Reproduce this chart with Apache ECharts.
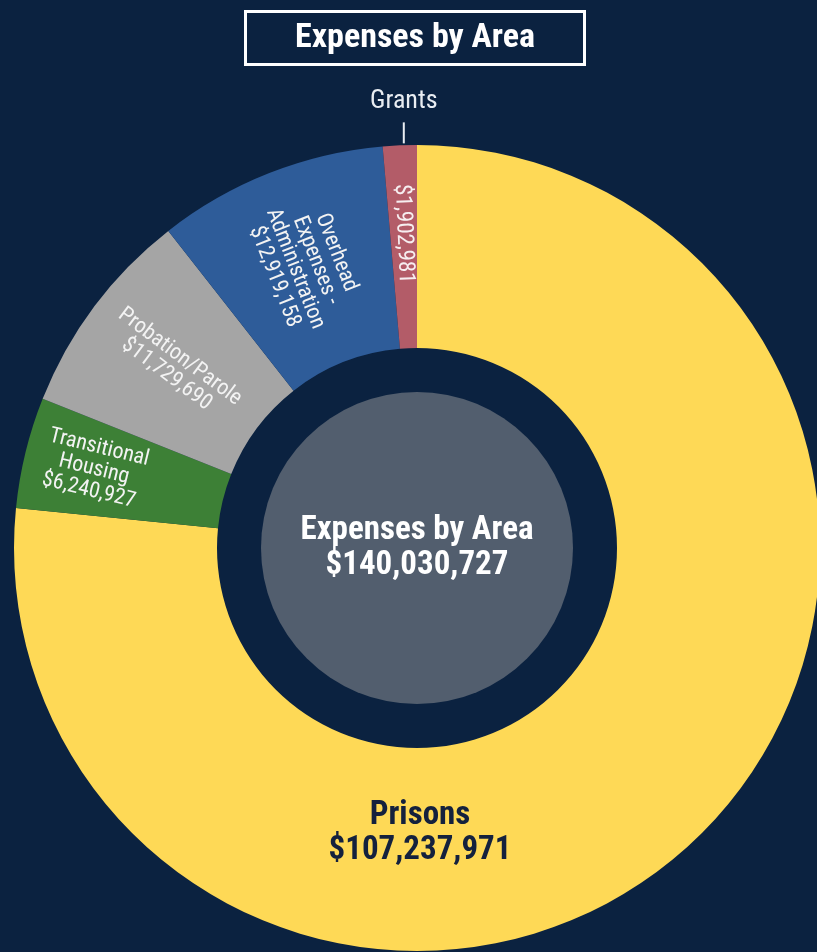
<!DOCTYPE html>
<html>
<head>
<meta charset="utf-8">
<script src="https://cdn.jsdelivr.net/npm/echarts@6/dist/echarts.min.js"></script>
<style>
  html, body { margin: 0; padding: 0; background: #0b2240; }
  #chart { width: 817px; height: 952px; }
</style>
</head>
<body>
<div id="chart"></div>
<script>
// Spending per area, clockwise from 12 o'clock
const categories = ['Prisons', 'Transitional\nHousing', 'Probation/Parole', 'Overhead\nExpenses -\nAdministration', 'Grants'];
const amounts = [107237971, 6240927, 11729690, 12919158, 1902981];
const sliceColors = ['#fed956', '#3d8036', '#a5a5a5', '#2e5c99', '#b35c68'];
const titleText = 'Expenses by Area';

const FONT = '"Roboto Condensed", "Liberation Sans Narrow", "DejaVu Sans Condensed", "Arial Narrow", sans-serif';
const BG = '#0b2240';
const CX = 417, CY = 548;
// extra outward push (px) for inner labels in the narrow slices.
// Radial labels on the left half read toward the centre, so "outward" is the
// negative text direction in the label's own frame.
const radialPush = { 1: 28, 4: 10 };

const total = amounts.reduce((a, b) => a + b, 0);
const money = v => '$' + v.toLocaleString('en-US');

const sliceData = categories.map((name, i) => {
  const item = { name: name, value: amounts[i], itemStyle: { color: sliceColors[i] } };
  if (i === 0) {
    item.label = {
      rotate: 0, color: '#14213d', fontWeight: 'bold', fontSize: 33, lineHeight: 35,
      formatter: p => p.name + '\n' + money(p.value)
    };
  }
  if (i === 4) {
    item.label = { formatter: p => money(p.value), color: '#f6eef0', fontSize: 23 };
  }
  return item;
});

// Transparent twin ring that only carries the outside "Grants" caption
const captionData = categories.map((name, i) => ({
  name: name, value: amounts[i],
  label: { show: i === 4 },
  labelLine: { show: i === 4 }
}));

const chart = echarts.init(document.getElementById('chart'), null, { renderer: 'canvas' });
chart.setOption({
  backgroundColor: BG,
  animation: false,
  title: {
    text: titleText,
    left: 245, top: 11,
    padding: [8, 50, 8, 50],
    borderColor: '#ffffff', borderWidth: 3,
    textStyle: { color: '#ffffff', fontFamily: FONT, fontWeight: 'bold', fontSize: 34, lineHeight: 38 }
  },
  series: [
    {
      type: 'pie',
      center: [CX, CY],
      radius: [200, 403],
      startAngle: 90,
      clockwise: true,
      silent: true,
      itemStyle: { borderWidth: 0 },
      label: {
        show: true,
        position: 'inside',
        rotate: 'radial',
        color: '#f3f3f3',
        fontFamily: FONT,
        fontSize: 22,
        lineHeight: 22,
        formatter: p => p.name + '\n' + money(p.value)
      },
      labelLine: { show: false },
      labelLayout: function (params) {
        if (params.dataIndex === 0) {
          return { x: CX + 3, y: CY + 285, align: 'center', verticalAlign: 'middle' };
        }
        const push = radialPush[params.dataIndex];
        return push ? { dx: -push } : {};
      },
      data: sliceData
    },
    {
      type: 'pie',
      center: [CX, CY],
      radius: [200, 403],
      startAngle: 90,
      clockwise: true,
      silent: true,
      itemStyle: { color: 'rgba(0,0,0,0)' },
      label: {
        position: 'outside',
        color: '#e9edf2',
        fontFamily: FONT,
        fontSize: 26,
        formatter: p => p.name
      },
      labelLine: { length: 20, length2: 0, lineStyle: { color: '#e9edf2', width: 2 } },
      labelLayout: function (params) {
        if (params.dataIndex !== 4 || !params.labelLinePoints) return {};
        const p0 = params.labelLinePoints[0];
        const x = p0[0] + 4, y = p0[1] - 2;
        return {
          x: x, y: y - 29, align: 'center', verticalAlign: 'bottom',
          labelLinePoints: [[x, y], [x, y - 21], [x, y - 21]]
        };
      },
      data: captionData
    },
    {
      type: 'pie',
      center: [CX, CY],
      radius: [0, 156],
      silent: true,
      itemStyle: { color: '#525e6e' },
      label: {
        show: true,
        position: 'center',
        color: '#ffffff',
        fontFamily: FONT,
        fontWeight: 'bold',
        fontSize: 33,
        lineHeight: 35,
        padding: [0, 0, 8, 0],
        formatter: () => titleText + '\n' + money(total)
      },
      labelLine: { show: false },
      data: [{ name: titleText, value: total }]
    }
  ]
});
</script>
</body>
</html>
